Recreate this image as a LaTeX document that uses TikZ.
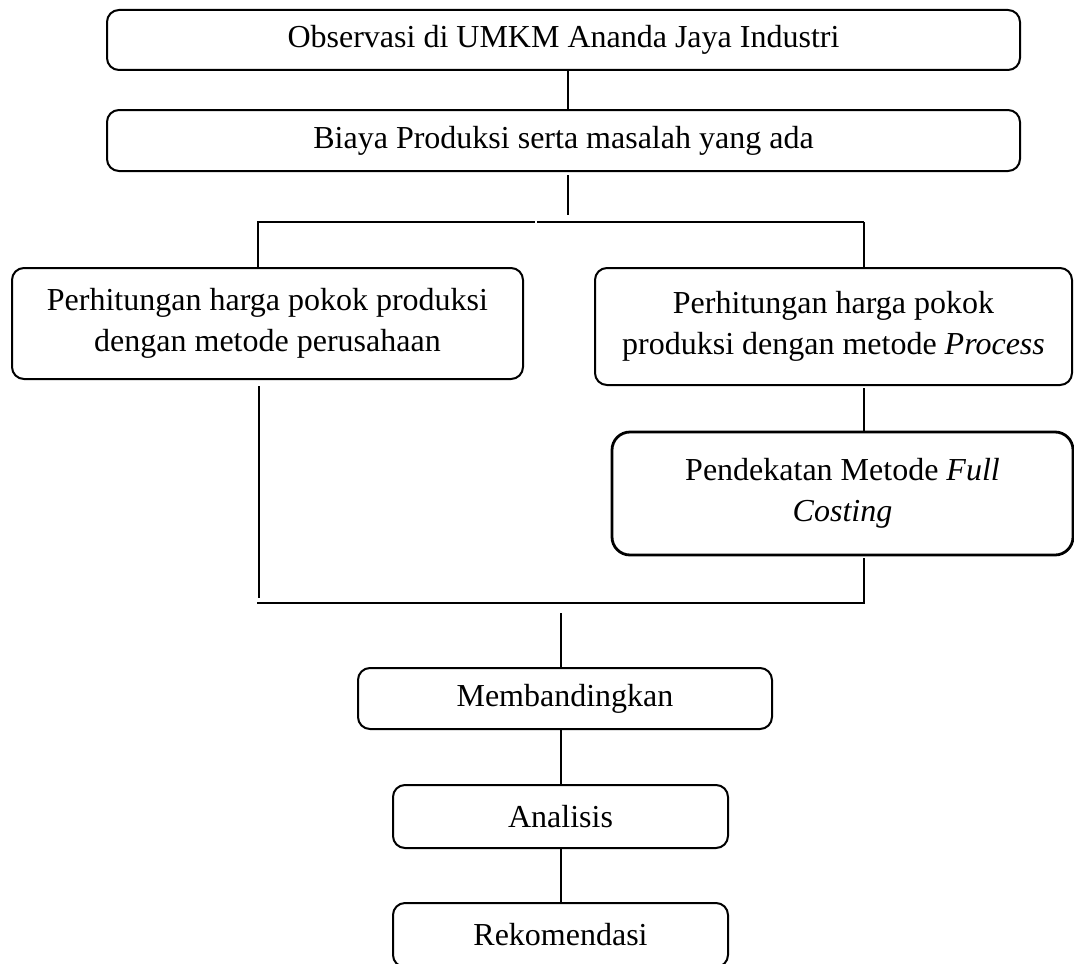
\documentclass[tikz,border=0pt]{standalone}
\usepackage{fontspec}
\setmainfont{Liberation Serif}
\begin{document}
\begin{tikzpicture}[x=0.5pt,y=-0.5pt,
  box/.style={draw, line width=1pt, rounded corners=6pt, inner sep=0pt, align=center,
    font=\fontsize{16}{20.5}\selectfont},
  thickbox/.style={box, line width=1.4pt, rounded corners=9pt},
  conn/.style={line width=0.8pt}]
\useasboundingbox (0,0) rectangle (1074,963);
% boxes
\node[box, minimum width=456.5pt, minimum height=30pt] (b1) at (563.5,40) {Observasi di UMKM Ananda Jaya Industri};
\node[box, minimum width=456.5pt, minimum height=30.5pt] (b2) at (563.5,140.5) {Biaya Produksi serta masalah yang ada};
\node[box, minimum width=255.5pt, minimum height=55.5pt] (bl) at (267.5,323.5) {Perhitungan harga pokok produksi\\dengan metode perusahaan};
\node[box, minimum width=238.5pt, minimum height=58.5pt] (br) at (833.5,326.5) {Perhitungan harga pokok\\produksi dengan metode \textit{Process}};
\node[thickbox, minimum width=230.5pt, minimum height=61.5pt] (bf) at (842.5,493.5) {Pendekatan Metode \textit{Full}\\\textit{Costing}};
\node[box, minimum width=207pt, minimum height=30.5pt] (bm) at (565,698.5) {Membandingkan};
\node[box, minimum width=167.5pt, minimum height=31.5pt] (ba) at (560.5,816.5) {Analisis};
\node[box, minimum width=167.5pt, minimum height=32pt] (bk) at (560.5,935) {Rekomendasi};
% junction coordinates
\coordinate (t1) at (568,175);
\coordinate (t2) at (568,215);
\coordinate (hl) at (257,222);
\coordinate (hg1) at (535,222);
\coordinate (hg2) at (537,222);
\coordinate (hr) at (864,222);
\coordinate (ll) at (259,598);
\coordinate (bhl) at (257,603);
\coordinate (bhr) at (865,603);
\coordinate (m1) at (561,613);
% connectors
\draw[conn] (b1.south -| t1) -- (b2.north -| t1);
\draw[conn] (t1) -- (t2);
\draw[conn] (hl) -- (hg1);
\draw[conn] (hg2) -- (hr);
\draw[conn] (hl -| 258,0) -- (bl.north -| 258,0);
\draw[conn] (hr) -- (br.north -| hr);
\draw[conn] (br.south -| 864,0) ++(0,2) -- (bf.north -| 864,0);
\draw[conn] (bf.south -| 864,0) ++(0,2) -- (bhr -| 864,0);
\draw[conn] (bl.south -| ll) ++(0,6) -- (ll);
\draw[conn] (bhl) -- (bhr);
\draw[conn] (m1) -- (bm.north -| m1);
\draw[conn] (bm.south -| m1) -- (ba.north -| m1);
\draw[conn] (ba.south -| m1) -- (bk.north -| m1);
\end{tikzpicture}
\end{document}
